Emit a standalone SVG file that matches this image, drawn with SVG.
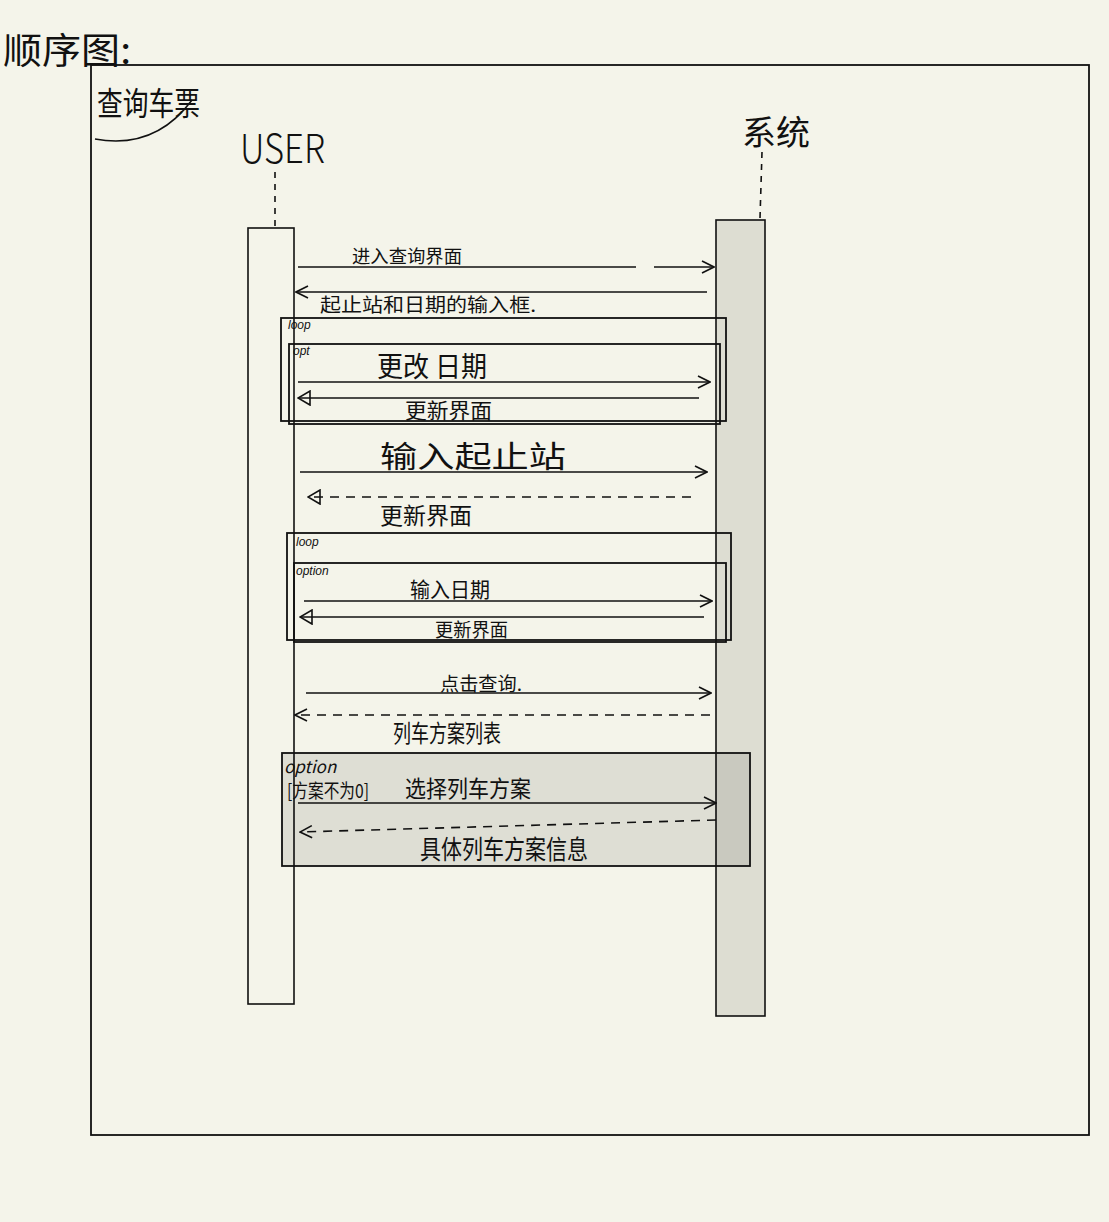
<svg xmlns="http://www.w3.org/2000/svg" width="1109" height="1222" viewBox="0 0 1109 1222">
<style>
.t{font-family:"Noto Sans CJK SC","Liberation Sans",sans-serif;fill:#111;}
.s{font-family:"Liberation Sans","Noto Sans CJK SC",sans-serif;font-style:italic;fill:#111;font-size:12px;}
.ln{stroke:#111;stroke-width:1.6;fill:none;}
.fr{stroke:#111;stroke-width:1.8;fill:none;}
.da{stroke:#111;stroke-width:1.6;fill:none;stroke-dasharray:9 7;}
</style>
<defs>
<marker id="open" viewBox="0 0 14 14" refX="13" refY="7" markerWidth="14" markerHeight="14" markerUnits="userSpaceOnUse" orient="auto">
<path d="M1,1 L13,7 L1,13" fill="none" stroke="#111" stroke-width="1.6"/>
</marker>
<marker id="tri" viewBox="0 0 14 16" refX="13" refY="8" markerWidth="14" markerHeight="16" markerUnits="userSpaceOnUse" orient="auto">
<path d="M1,1 L13,8 L1,15 Z" fill="none" stroke="#111" stroke-width="1.6"/>
</marker>
</defs>
<rect width="1109" height="1222" fill="#f4f4ea"/>
<g id="title">
<text class="t" x="3" y="64" font-size="36" textLength="128" lengthAdjust="spacingAndGlyphs">顺序图:</text>
</g>
<g id="frame">
<rect x="91" y="65" width="998" height="1070" class="fr"/>
<text class="t" x="97" y="115" font-size="32" textLength="103" lengthAdjust="spacingAndGlyphs">查询车票</text>
<path d="M95,139 Q155,150 192,100" class="ln"/>
</g>
<g id="user">
<text class="t" x="240" y="163" font-size="40" font-weight="300" textLength="85" lengthAdjust="spacingAndGlyphs">USER</text>
<line x1="275" y1="172" x2="275" y2="226" class="ln" stroke-dasharray="6 6"/>
<rect x="248" y="228" width="46" height="776" fill="#f4f4ea" stroke="#111" stroke-width="1.6"/>
</g>
<g id="system">
<text class="t" x="742" y="145" font-size="34" textLength="68" lengthAdjust="spacingAndGlyphs">系统</text>
<line x1="762" y1="152" x2="760" y2="218" class="ln" stroke-dasharray="6 6"/>
<rect x="716" y="220" width="49" height="796" fill="#ddddd2" stroke="#111" stroke-width="1.6"/>
</g>
<g id="frame-loop1">
<rect x="281" y="318" width="445" height="103" class="fr"/>
<text class="s" x="288" y="329" font-size="11">loop</text>
</g>
<g id="frame-opt1">
<rect x="289" y="344" width="431" height="80" class="fr"/>
<text class="s" x="293" y="355" font-size="11">opt</text>
</g>
<g id="frame-loop2">
<rect x="287" y="533" width="444" height="107" class="fr" stroke-width="1.2"/>
<text class="s" x="296" y="546">loop</text>
</g>
<g id="frame-option2">
<rect x="294" y="563" width="432" height="79" class="fr"/>
<text class="s" x="296" y="575">option</text>
</g>
<g id="frame-option3">
<rect x="282" y="753" width="468" height="113" fill="#000" fill-opacity="0.09" stroke="#111" stroke-width="1.8"/>
<text class="t" x="284" y="773" font-size="17" font-style="italic">option</text>
<text class="t" x="287" y="798" font-size="19" textLength="82" lengthAdjust="spacingAndGlyphs">[方案不为0]</text>
</g>
<g id="connectors">
<line x1="298" y1="267" x2="636" y2="267" class="ln"/>
<line x1="654" y1="267" x2="714" y2="267" class="ln" marker-end="url(#open)"/>
<line x1="707" y1="292" x2="296" y2="292" class="ln" marker-end="url(#open)"/>
<line x1="298" y1="382" x2="710" y2="382" class="ln" marker-end="url(#open)"/>
<line x1="699" y1="398" x2="298" y2="398" class="ln" marker-end="url(#tri)"/>
<line x1="300" y1="472" x2="707" y2="472" class="ln" marker-end="url(#open)"/>
<line x1="691" y1="497" x2="308" y2="497" class="da" stroke-dasharray="40 3" marker-end="url(#tri)"/>
<line x1="304" y1="601" x2="712" y2="601" class="ln" marker-end="url(#open)"/>
<line x1="704" y1="617" x2="300" y2="617" class="ln" marker-end="url(#tri)"/>
<line x1="306" y1="693" x2="711" y2="693" class="ln" marker-end="url(#open)"/>
<line x1="710" y1="715" x2="295" y2="715" class="da" marker-end="url(#open)"/>
<line x1="298" y1="803" x2="716" y2="803" class="ln" marker-end="url(#open)"/>
<line x1="716" y1="820" x2="300" y2="832" class="da" stroke-dasharray="16 14" marker-end="url(#open)"/>
</g>
<g id="labels">
<text class="t" x="352" y="263" font-size="18" textLength="110" lengthAdjust="spacingAndGlyphs">进入查询界面</text>
<text class="t" x="320" y="312" font-size="19" textLength="216" lengthAdjust="spacingAndGlyphs">起止站和日期的输入框.</text>
<text class="t" x="377" y="377" font-size="28" textLength="110" lengthAdjust="spacingAndGlyphs">更改 日期</text>
<text class="t" x="405" y="418" font-size="21" textLength="87" lengthAdjust="spacingAndGlyphs">更新界面</text>
<text class="t" x="380" y="467" font-size="30" textLength="186" lengthAdjust="spacingAndGlyphs">输入起止站</text>
<text class="t" x="380" y="524" font-size="23" textLength="92" lengthAdjust="spacingAndGlyphs">更新界面</text>
<text class="t" x="410" y="597" font-size="21" textLength="80" lengthAdjust="spacingAndGlyphs">输入日期</text>
<text class="t" x="435" y="637" font-size="19" textLength="73" lengthAdjust="spacingAndGlyphs">更新界面</text>
<text class="t" x="440" y="691" font-size="19" textLength="82" lengthAdjust="spacingAndGlyphs">点击查询.</text>
<text class="t" x="393" y="742" font-size="24" textLength="108" lengthAdjust="spacingAndGlyphs">列车方案列表</text>
<text class="t" x="405" y="797" font-size="23" textLength="126" lengthAdjust="spacingAndGlyphs">选择列车方案</text>
<text class="t" x="420" y="859" font-size="26" textLength="168" lengthAdjust="spacingAndGlyphs">具体列车方案信息</text>
</g>
</svg>
